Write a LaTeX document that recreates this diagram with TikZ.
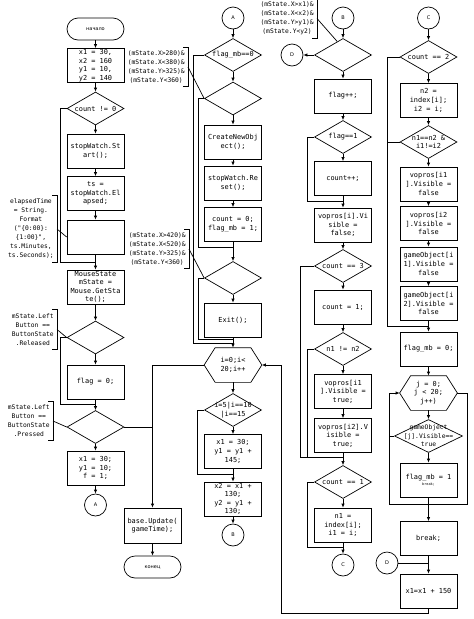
\documentclass[tikz,border=0pt]{standalone}
\usepackage{fontspec}
\setmonofont{DejaVu Sans Mono}
\newfontfamily\lblfont{DejaVu Sans}
\usepackage{tikz}
\usetikzlibrary{shapes.geometric, arrows.meta, calc}

% hexagon for loops, diamond with free text, bracketed comment
\newcommand{\loopnode}[4]{%
  \node[loopbox] (#1) at (#2,#3) {#4};
  \draw ([xshift=11]#1.north west) -- ([xshift=-11]#1.north east) -- (#1.east)
    -- ([xshift=-11]#1.south east) -- ([xshift=11]#1.south west) -- (#1.west) -- cycle;}
\newcommand{\decnode}[5][57]{%
  \node[dec, minimum width=#1] (#2) at (#3,#4) {};
  \node[dectext] (#2t) at (#2) {#5};}
\newcommand{\cmtbox}[5]{%
  \node[cmt, minimum height=#4, anchor=east] (#1) at (#2,#3) {#5};
  \draw ([xshift=-5]#1.north east) -- (#1.north east) -- (#1.south east) -- ([xshift=-5]#1.south east);}

\begin{document}
\begin{tikzpicture}[x=1pt, y=-1pt, line width=0.7pt,
  >={Latex[length=4pt,width=3.5pt]},
  proc/.style={draw, rectangle, minimum width=57, minimum height=34, inner sep=0pt,
    align=center, font=\ttfamily\fontsize{6.9}{8.6}\selectfont},
  loopbox/.style={rectangle, minimum width=57, minimum height=34, inner sep=0pt,
    align=center, font=\ttfamily\fontsize{6.9}{8.6}\selectfont},
  dec/.style={draw, diamond, minimum height=33, inner sep=0pt},
  dectext/.style={inner sep=0pt, align=center, font=\ttfamily\fontsize{6.9}{8.6}\selectfont},
  term/.style={draw, rectangle, rounded corners=11, minimum width=57, minimum height=22,
    inner sep=0pt, font=\lblfont\fontsize{5}{6}\selectfont},
  conn/.style={draw, circle, minimum size=22, inner sep=0pt, font=\lblfont\fontsize{5}{6}\selectfont},
  cmt/.style={inner sep=3pt, align=center, font=\ttfamily\fontsize{6.3}{9}\selectfont}]
\useasboundingbox (0,0) rectangle (474,619);

% column 1
\node[term] (start) at (95.5,29) {начало};
\node[proc] (b1) at (95.5,65.5) {x1 = 30,\\x2 = 160\\y1 = 10,\\y2 = 140};
\decnode{d1}{95.5}{108.5}{count != 0}
\node[proc] (b2) at (95.5,151) {stopWatch.St\\art();};
\node[proc] (b3) at (95.5,193.5) {ts =\\stopWatch.El\\apsed;};
\node[proc] (b4) at (95.5,237) {};
\node[proc] (b5) at (95.5,287) {MouseState\\mState =\\Mouse.GetSta\\te();};
\decnode{d2}{95.5}{337.5}{}
\node[proc] (b6) at (95.5,382) {flag = 0;};
\decnode{d3}{95.5}{427}{}
\node[proc] (b7) at (95.5,468) {x1 = 30;\\y1 = 10;\\f = 1;};
\node[conn] (A1) at (95.5,505) {A};
\node[proc, minimum height=35] (b8) at (152.5,525.5) {base.Update(\\gameTime);};
\node[term] (end) at (152.5,567) {конец};

\cmtbox{c1}{188}{67}{38}{(mState.X>280)\&\\(mState.X<380)\&\\(mState.Y>325)\&\\(mState.Y<360)}
\cmtbox{c2}{57}{229}{66}{elapsedTime\\= String.\\Format\\("\{0:00\}:\\\{1:00\}",\\ts.Minutes,\\ts.Seconds);}
\cmtbox{c3}{189}{249}{38}{(mState.X>420)\&\\(mState.X<520)\&\\(mState.Y>325)\&\\(mState.Y<360)}
\cmtbox{c4}{57}{329.5}{39}{mState.Left\\Button ==\\ButtonState\\.Released}
\cmtbox{c5}{53}{421}{38}{mState.Left\\Button ==\\ButtonState\\.Pressed}

% column 2
\node[conn] (A2) at (233,18) {A};
\decnode{d4}{233}{55}{flag\_mb==0}
\decnode{d5}{233}{98.5}{}
\node[proc] (b9) at (233,142) {CreateNewObj\\ect();};
\node[proc] (b10) at (233,183) {stopWatch.Re\\set();};
\node[proc] (b11) at (233,224.5) {count = 0;\\flag\_mb = 1;};
\decnode{d6}{233}{278}{}
\node[proc] (b12) at (233,320) {Exit();};
\loopnode{h1}{233}{365}{i=0;i<\\20;i++}
\decnode{d7}{233}{410}{i=5|i==10\\|i==15}
\node[proc] (b13) at (233,451.5) {x1 = 30;\\y1 = y1 +\\145;};
\node[proc] (b14) at (233,499) {x2 = x1 +\\130;\\y2 = y1 +\\130;};
\node[conn] (B2) at (233,535) {B};

\cmtbox{c6}{317}{18.5}{37}{(mState.X>x1)\&\\(mState.X<x2)\&\\(mState.Y>y1)\&\\(mState.Y<y2)}

% column 3
\node[conn] (B3) at (343,18) {B};
\decnode{d8}{343}{55}{}
\node[conn] (D1) at (292,55) {D};
\node[proc] (b15) at (343,96) {flag++;};
\decnode{d9}{343}{137}{flag==1}
\node[proc] (b16) at (343,178.5) {count++;};
\node[proc] (b17) at (343,225) {vopros[i].Vi\\sible =\\false;};
\decnode{d10}{343}{266}{count == 3}
\node[proc] (b18) at (343,307) {count = 1;};
\decnode{d11}{343}{349}{n1 != n2}
\node[proc] (b19) at (343,391.5) {vopros[i1\\].Visible =\\true;};
\node[proc] (b20) at (343,435.5) {vopros[i2].V\\isible =\\true;};
\decnode{d12}{343}{482}{count == 1}
\node[proc] (b21) at (343,525) {n1 =\\index[i];\\i1 = i;};
\node[conn] (C3) at (343,565) {C};

% column 4
\node[conn] (C4) at (428.5,18) {C};
\decnode{d13}{428.5}{57}{count == 2}
\node[proc] (b22) at (428.5,100.5) {n2 =\\index[i];\\i2 = i;};
\decnode{d14}{428.5}{142}{n1==n2 \&\\i1!=i2}
\node[proc] (b23) at (428.5,184) {vopros[i1\\].Visible =\\false};
\node[proc] (b24) at (428.5,223.5) {vopros[i2\\].Visible =\\false};
\node[proc] (b25) at (428.5,264) {gameObject[i\\1].Visible =\\false};
\node[proc] (b26) at (428.5,303.5) {gameObject[i\\2].Visible =\\false};
\node[proc] (b27) at (428.5,349) {flag\_mb = 0;};
\loopnode{h2}{428.5}{393}{j = 0;\\j < 20;\\j++)}
\decnode[68]{d15}{428.5}{436}{{\fontsize{6.3}{8.2}\selectfont gameObject}\\{\fontsize{6.3}{8.2}\selectfont[j].Visible==}\\{\fontsize{6.3}{8.2}\selectfont true}}
\node[proc] (b28) at (428.5,480) {flag\_mb = 1\\[-2pt]{\fontsize{3.5}{4}\selectfont break;}};
\node[proc] (b29) at (428.5,538.5) {break;};
\node[conn] (D2) at (387,563) {D};
\node[proc] (b30) at (428.5,591) {x1=x1 + 150};

% join points
\coordinate (j1) at (95.5,262);
\coordinate (j2) at (95.5,404);
\coordinate (j3) at (233,247);
\coordinate (j4) at (233,339);
\coordinate (j5) at (233,343);
\coordinate (j6) at (233,474);
\coordinate (j7) at (343,201);
\coordinate (j8) at (343,457);
\coordinate (j9) at (343,547);
\coordinate (j10) at (428.5,326);
\coordinate (j11) at (428.5,504);
\coordinate (r1) at (281,613);

% column 1 flow
\draw[->] (start) -- (b1);
\draw[->] (b1) -- (d1);
\draw[->] (d1) -- (b2);
\draw[->] (b2) -- (b3);
\draw[->] (b3) -- (b4);
\draw[->] (b4) -- (b5);
\draw (d1.west) -- ++(-6,0) |- (j1);
\draw[->] (b5) -- (d2);
\draw[->] (d2) -- (b6);
\draw[->] (b6) -- (d3);
\draw (d2.west) -- ++(-6,0) |- (j2);
\draw[->] (d3) -- (b7);
\draw[->] (b7) -- (A1);
\draw (d3.east) -- (d3.east -| b8);
\draw[->] (h1.west) -| (b8);
\draw[->] (b8) -- (end);

% column 2 flow
\draw[->] (A2) -- (d4);
\draw[->] (d4) -- (d5);
\draw[->] (d5) -- (b9);
\draw[->] (b9) -- (b10);
\draw[->] (b10) -- (b11);
\draw[->] (b11) -- (d6);
\draw (d5.west) -- ++(-6,0) |- (j3);
\draw[->] (d6) -- (b12);
\draw (d6.west) -- ++(-6,0) |- (j4);
\draw (d4.west) -- ++(-11,0) |- (j5);
\draw[->] (b12) -- (h1);
\draw[->] (h1) -- (d7);
\draw[->] (d7) -- (b13);
\draw[->] (b13) -- (b14);
\draw (d7.west) -- ++(-7,0) |- (j6);
\draw[->] (b14) -- (B2);
\draw[->] (b30) |- (r1) |- (h1.east);

% column 3 flow
\draw[->] (B3) -- (d8);
\draw[->] (d8.west) -- (D1);
\draw[->] (d8) -- (b15);
\draw[->] (b15) -- (d9);
\draw[->] (d9) -- (b16);
\draw[->] (b16) -- (b17);
\draw (d9.west) -- ++(-7,0) |- (j7);
\draw[->] (b17) -- (d10);
\draw[->] (d10) -- (b18);
\draw[->] (b18) -- (d11);
\draw[->] (d11) -- (b19);
\draw[->] (b19) -- (b20);
\draw (d10.west) -- ++(-14,0) |- (j8);
\draw (d11.west) -- ++(-7,0) |- (j8);
\draw[->] (b20) -- (d12);
\draw[->] (d12) -- (b21);
\draw (d12.west) -- ++(-7,0) |- (j9);
\draw[->] (b21) -- (C3);

% column 4 flow
\draw[->] (C4) -- (d13);
\draw[->] (d13) -- (b22);
\draw[->] (b22) -- (d14);
\draw[->] (d14) -- (b23);
\draw[->] (b23) -- (b24);
\draw[->] (b24) -- (b25);
\draw[->] (b25) -- (b26);
\draw[->] (b26) -- (b27);
\draw (d13.west) -- ++(-12,0) |- (j10);
\draw (d14.west) -- ++(-12,0);
\draw[->] (b27) -- (h2);
\draw[->] (h2) -- (d15);
\draw[->] (d15) -- (b28);
\draw (h2.east) -- ++(10,0) |- (j11);
\draw[->] (j11) -| ($(h2.west)+(-10,0)$) -- (h2.west);
\draw (d15.west) -- ++(-4.5,0);
\draw[->] (b28) -- (b29);
\draw[->] (b29) -- (b30);
\draw (D2) -- (D2 -| b30);

% comments
\draw (c1.east) -- (d5.west);
\draw (c2.east) -- (b4.west);
\draw (c3.east) -- (d6.west);
\draw (c4.east) -- (d2.west);
\draw (c5.east) -- (d3.west);
\draw (c6.east) -- ($(d8.north)!0.2!(d8.west)$);
\end{tikzpicture}
\end{document}
